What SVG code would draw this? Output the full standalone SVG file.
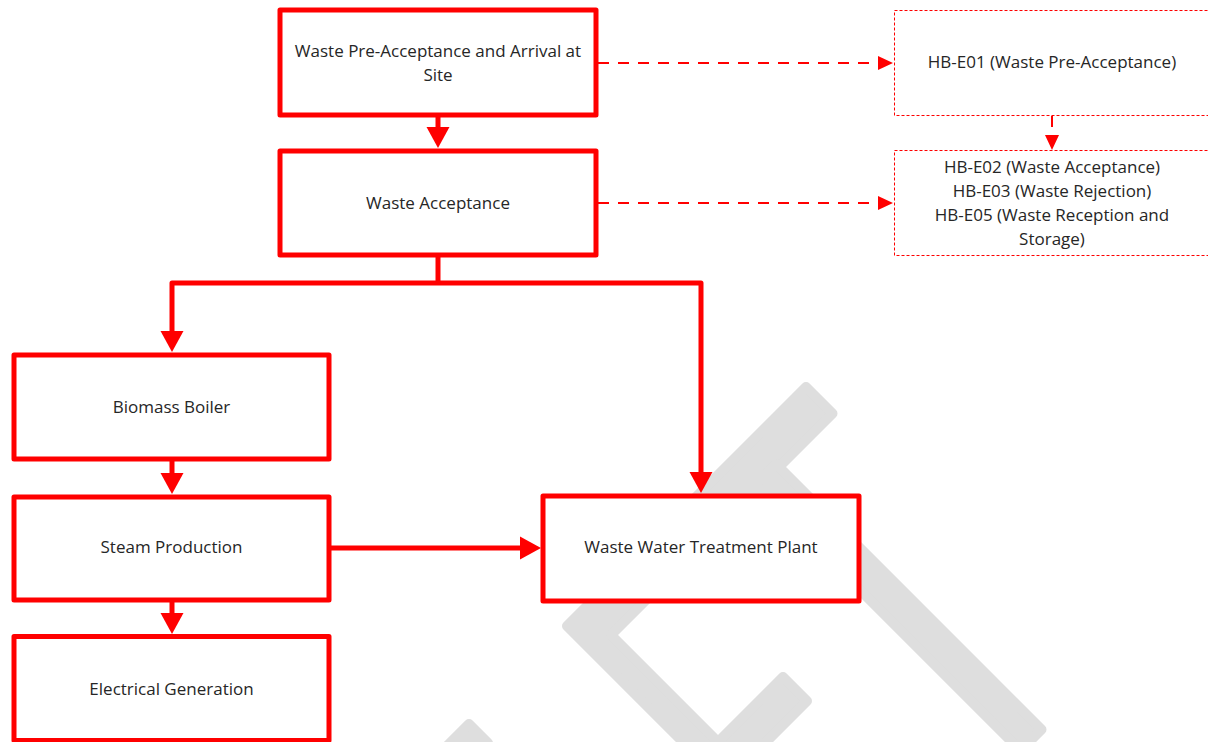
<svg xmlns="http://www.w3.org/2000/svg" width="1208" height="742" viewBox="0 0 1208 742">
<style>
.wm{fill:#dedede;stroke:#dedede;stroke-width:10;stroke-linejoin:round}
.box{fill:#ffffff;stroke:#ff0000;stroke-width:5;stroke-linejoin:round}
.dbox{fill:#ffffff;stroke:#ff0000;stroke-width:1;stroke-dasharray:3 2}
.t{font-family:"Open Sans","Liberation Sans",sans-serif;font-size:17px;fill:#262626;text-anchor:middle}
.c{fill:none;stroke:#ff0000;stroke-width:5;stroke-linejoin:round}
.d{fill:none;stroke:#ff0000;stroke-width:2;stroke-dasharray:11 9}
</style>
<defs>
<marker id="ah" markerUnits="userSpaceOnUse" markerWidth="22" markerHeight="24" refX="0" refY="11.5" orient="auto" overflow="visible">
<path d="M0,0 L21,11.5 L0,23 Z" fill="#ff0000"/>
</marker>
<marker id="dh" markerUnits="userSpaceOnUse" markerWidth="16" markerHeight="15" refX="0" refY="7" orient="auto" overflow="visible">
<path d="M0,0 L15,7 L0,14 Z" fill="#ff0000"/>
</marker>
</defs>
<rect width="1208" height="742" fill="#ffffff"/>
<g id="watermark">
<polygon class="wm" points="806,387 832.5,413.5 611,635 718,742 783,677 807,701 724.5,783.5 567,626"/>
<polygon class="wm" points="776,464 1041.5,729.5 1020.5,750.5 755,485"/>
<polygon class="wm" points="469,724 488,743 405.5,825.5 386.5,806.5"/>
</g>
<g id="connectors">
<path class="c" d="M438,117 V127" marker-end="url(#ah)"/>
<path class="c" d="M438,257 V283"/>
<path class="c" d="M438,283 H172 V331" marker-end="url(#ah)"/>
<path class="c" d="M438,283 H701 V472" marker-end="url(#ah)"/>
<path class="c" d="M172,461 V473" marker-end="url(#ah)"/>
<path class="c" d="M172,602 V613" marker-end="url(#ah)"/>
<path class="c" d="M331,548 H520" marker-end="url(#ah)"/>
<path class="d" d="M598,63 H878" marker-end="url(#dh)"/>
<path class="d" d="M598,203 H878" marker-end="url(#dh)"/>
<path class="d" d="M1052,116 V135" marker-end="url(#dh)"/>
</g>
<g id="n1">
<rect class="box" x="280" y="10" width="316" height="105"/>
<text class="t" x="438" y="57">Waste Pre-Acceptance and Arrival at</text>
<text class="t" x="438" y="81">Site</text>
</g>
<g id="n2">
<rect class="box" x="280" y="151" width="316" height="104"/>
<text class="t" x="438" y="209">Waste Acceptance</text>
</g>
<g id="n3">
<rect class="dbox" x="894.5" y="10.5" width="315" height="105"/>
<text class="t" x="1052" y="68">HB-E01 (Waste Pre-Acceptance)</text>
</g>
<g id="n4">
<rect class="dbox" x="894.5" y="150.5" width="315" height="105"/>
<text class="t" x="1052" y="173">HB-E02 (Waste Acceptance)</text>
<text class="t" x="1052" y="197">HB-E03 (Waste Rejection)</text>
<text class="t" x="1052" y="221">HB-E05 (Waste Reception and</text>
<text class="t" x="1052" y="245">Storage)</text>
</g>
<g id="n5">
<rect class="box" x="14" y="355" width="315" height="104"/>
<text class="t" x="171.5" y="413">Biomass Boiler</text>
</g>
<g id="n6">
<rect class="box" x="14" y="497" width="315" height="103"/>
<text class="t" x="171.5" y="553">Steam Production</text>
</g>
<g id="n7">
<rect class="box" x="14" y="636.5" width="315" height="104"/>
<text class="t" x="171.5" y="695">Electrical Generation</text>
</g>
<g id="n8">
<rect class="box" x="543" y="496" width="316" height="105"/>
<text class="t" x="701" y="553">Waste Water Treatment Plant</text>
</g>
</svg>
